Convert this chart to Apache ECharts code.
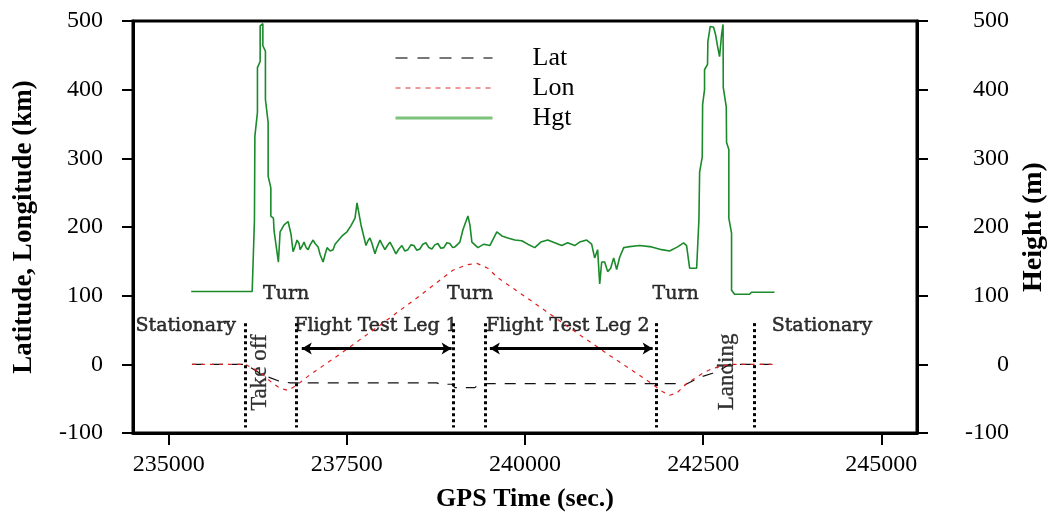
<!DOCTYPE html>
<html>
<head>
<meta charset="utf-8">
<script src="https://cdn.jsdelivr.net/npm/echarts@6/dist/echarts.min.js"></script>
<style>
html,body{margin:0;padding:0;background:#fff;}
#chart{width:1052px;height:523px;}
</style>
</head>
<body>
<div id="chart"></div>
<script>
// ---- Data ----
const xTickValues = [235000, 237500, 240000, 242500, 245000];

// Height (m), right axis
const hgtTime = [
  235317,236172,236204,236210,236246,236246,236284,236284,236322,236322,236358,236358,236396,236396,236434,236434,236470,236480,236540,236564,236620,236676,236718,236746,
  236774,236802,236830,236844,236872,236900,236928,236957,236985,237027,237055,237097,237125,237167,237195,237223,237265,237307,237335,237363,237433,237503,237559,237615,237643,237671,237699,
  237769,237797,237825,237853,237895,237923,237965,237993,238035,238063,238105,238147,238189,238231,238273,238315,238357,238399,238441,238483,238525,238567,238609,238651,238693,238735,238777,238819,238861,238903,238945,238987,239016,239058,239086,
  239129,239171,239199,239227,239255,239339,239423,239507,239605,239675,239759,239857,239955,240039,240137,240221,240319,240417,240515,240599,240697,240767,240865,240935,240977,241019,241048,241076,241118,241160,241202,241244,241286,241328,241385,241440,241609,241777,241917,242029,242141,242225,242267,242310,242408,242440,242450,242487,242492,242519,242519,242561,242566,242599,242646,242674,242702,242730,242754,242758,242779,242782,242824,242828,242860,242860,242898,242898,242940,243150,243178,243500
];
const hgtValue = [
  106,106,210,332,367,432,441,493,496,464,456,386,352,274,257,216,213,194,149,193,203,208,189,164,
  172,181,176,167,172,178,170,167,174,181,176,171,160,149,160,170,165,167,175,177,187,193,202,213,235,219,203,
  173,180,184,176,161,170,181,175,167,172,178,170,161,168,173,165,167,174,173,166,168,175,177,170,168,174,176,169,170,177,176,170,171,175,178,
  196,208,216,203,178,170,175,173,193,187,184,181,180,175,170,178,181,177,173,177,173,178,181,175,155,167,117,149,149,135,140,155,138,156,170,171,173,171,167,165,171,177,173,140,140,210,280,302,378,400,429,437,470,492,491,480,463,448,448,480,495,403,375,323,313,213,191,108,102,102,105,105
];

// Latitude (km), left axis
const latTime = [235327,236074,236312,236536,236704,238764,238806,238974,239016,239297,239339,239479,241750,242101,242239,242450,242632,242758,242870,243500];
const latValue = [0,0,-15,-24,-27,-27,-29,-29,-34,-34,-30,-28,-28,-28,-30,-19,-13,-7,0,0];

// Longitude (km), left axis
const lonTime = [235327,236074,236172,236312,236452,236564,236676,236788,236985,237405,237965,238526,238988,239184,239325,239479,239619,240067,240627,241188,241750,241932,242030,242128,242268,242492,242632,242870,243500];
const lonValue = [0,0,-5,-14,-27,-35,-38,-31,-15,15,57,100,137,145,147,140,126,94,53,13,-26,-40,-45,-42,-28,-13,-6,0,0];

// Phase boundaries (GPS time) and arrows
const phaseBounds = [236074, 236789, 238993, 239441, 241843, 243221];
const phaseLineTop = 60, phaseLineBottom = -92;
const legArrows = [[236868, 238970], [239507, 241791]];
const arrowLevel = 23;

// Annotation labels
const noteTexts = ['Turn', 'Turn', 'Turn', 'Stationary', 'Flight Test Leg 1', 'Flight Test Leg 2', 'Stationary'];
const noteTime = [236648, 239230, 242114, 235240, 237909, 240600, 244166];
const noteValue = [102, 102, 102, 56, 56, 56, 56];
const vNoteTexts = ['Take off', 'Landing'];
const vNoteTime = [236284, 242835];
const vNoteValue = [-12, -11];

const seriesNames = ['Lat', 'Lon', 'Hgt'];

// ---- Build ----
const zip = (a, b) => a.map((v, i) => [v, b[i]]);
const serif = 'Liberation Serif';
const hidden = {color: 'rgba(0,0,0,0)', borderColor: 'rgba(0,0,0,0)', borderWidth: 0};

const chart = echarts.init(document.getElementById('chart'), null, {renderer: 'canvas'});

const option = {
  animation: false,
  backgroundColor: '#fff',
  grid: {left: 133, right: 135, top: 21, bottom: 90, outerBoundsMode: 'none', containLabel: false,
         show: true, borderColor: '#000', borderWidth: 3, backgroundColor: 'transparent'},
  legend: {
    orient: 'vertical',
    left: 389, top: 40,
    itemWidth: 97, itemHeight: 14, itemGap: 4,
    selectedMode: false,
    textStyle: {fontFamily: serif, fontSize: 26, color: '#000', padding: [0, 0, 0, 35]},
    data: [
      {name: seriesNames[0], itemStyle: hidden, lineStyle: {color: '#777', width: 2, type: [12, 10]}},
      {name: seriesNames[1], itemStyle: hidden, lineStyle: {color: '#e03030', width: 1, type: [5, 5]}},
      {name: seriesNames[2], itemStyle: hidden, lineStyle: {color: '#7cc27c', width: 3, type: 'solid'}}
    ]
  },
  xAxis: {
    type: 'value', min: 234500, max: 245500,
    name: 'GPS Time (sec.)', nameLocation: 'middle', nameGap: 53,
    nameTextStyle: {fontFamily: serif, fontSize: 26, fontWeight: 'bold', color: '#000'},
    axisLine: {show: true, onZero: false, lineStyle: {color: '#000', width: 3}},
    axisTick: {show: true, length: 12, lineStyle: {color: '#000', width: 2}, customValues: xTickValues},
    axisLabel: {fontFamily: serif, fontSize: 24, color: '#000', margin: 20, customValues: xTickValues, formatter: v => String(v)},
    splitLine: {show: false}
  },
  yAxis: [
    {
      type: 'value', min: -100, max: 500, interval: 100, position: 'left',
      name: 'Latitude, Longitude (km)', nameLocation: 'middle', nameGap: 95, nameRotate: 90,
      nameTextStyle: {fontFamily: serif, fontSize: 27, fontWeight: 'bold', color: '#000'},
      axisLine: {show: true, lineStyle: {color: '#000', width: 3}},
      axisTick: {show: true, length: 11, lineStyle: {color: '#000', width: 2}},
      axisLabel: {fontFamily: serif, fontSize: 24, color: '#000', margin: 30},
      splitLine: {show: false}
    },
    {
      type: 'value', min: -100, max: 500, interval: 100, position: 'right',
      name: 'Height (m)', nameLocation: 'middle', nameGap: 100, nameRotate: 90,
      nameTextStyle: {fontFamily: serif, fontSize: 28, fontWeight: 'bold', color: '#000'},
      axisLine: {show: true, lineStyle: {color: '#000', width: 3}},
      axisTick: {show: true, length: 11, lineStyle: {color: '#000', width: 2}},
      axisLabel: {fontFamily: serif, fontSize: 24, color: '#000', margin: 92, align: 'right'},
      splitLine: {show: false}
    }
  ],
  series: [
    {
      name: seriesNames[2], type: 'line', yAxisIndex: 1, data: zip(hgtTime, hgtValue),
      showSymbol: false, symbol: 'none', silent: true,
      lineStyle: {color: '#1a8a2a', width: 1.6}, itemStyle: {color: '#1a8a2a'}
    },
    {
      name: seriesNames[0], type: 'line', yAxisIndex: 0, data: zip(latTime, latValue),
      showSymbol: false, symbol: 'none', silent: true,
      lineStyle: {color: '#111', width: 1.2, type: [11, 9]}, itemStyle: {color: '#111'},
      markLine: {
        silent: true, symbol: 'none', animation: false, label: {show: false},
        lineStyle: {color: '#000', width: 3, type: [3, 3]},
        data: phaseBounds.map(t => [{coord: [t, phaseLineTop]}, {coord: [t, phaseLineBottom]}])
      }
    },
    {
      name: seriesNames[1], type: 'line', yAxisIndex: 0, data: zip(lonTime, lonValue),
      showSymbol: false, symbol: 'none', silent: true,
      lineStyle: {color: '#e02020', width: 1.2, type: [4, 5]}, itemStyle: {color: '#e02020'},
      markLine: {
        silent: true, symbol: ['arrow', 'arrow'], symbolSize: [9, 10], animation: false, label: {show: false},
        lineStyle: {color: '#000', width: 3, type: 'solid'},
        data: legArrows.map(a => [{coord: [a[0], arrowLevel]}, {coord: [a[1], arrowLevel]}])
      }
    },
    {
      name: 'notes', type: 'scatter', yAxisIndex: 0, silent: true,
      symbol: 'circle', symbolSize: 1, itemStyle: {color: 'rgba(0,0,0,0)'},
      label: {show: true, position: 'inside', formatter: p => p.name, fontFamily: 'DejaVu Serif', fontSize: 19,
              color: '#000', textBorderColor: '#000', textBorderWidth: 0.5},
      data: noteTexts.map((s, i) => ({name: s, value: [noteTime[i], noteValue[i]]}))
    },
    {
      name: 'vnotes', type: 'scatter', yAxisIndex: 0, silent: true,
      symbol: 'circle', symbolSize: 1, itemStyle: {color: 'rgba(0,0,0,0)'},
      label: {show: true, position: 'inside', rotate: 90, formatter: p => p.name, fontFamily: serif, fontSize: 23,
              color: '#000', textBorderColor: '#000', textBorderWidth: 0.3},
      data: vNoteTexts.map((s, i) => ({name: s, value: [vNoteTime[i], vNoteValue[i]]}))
    }
  ]
};
chart.setOption(option);
</script>
</body>
</html>
